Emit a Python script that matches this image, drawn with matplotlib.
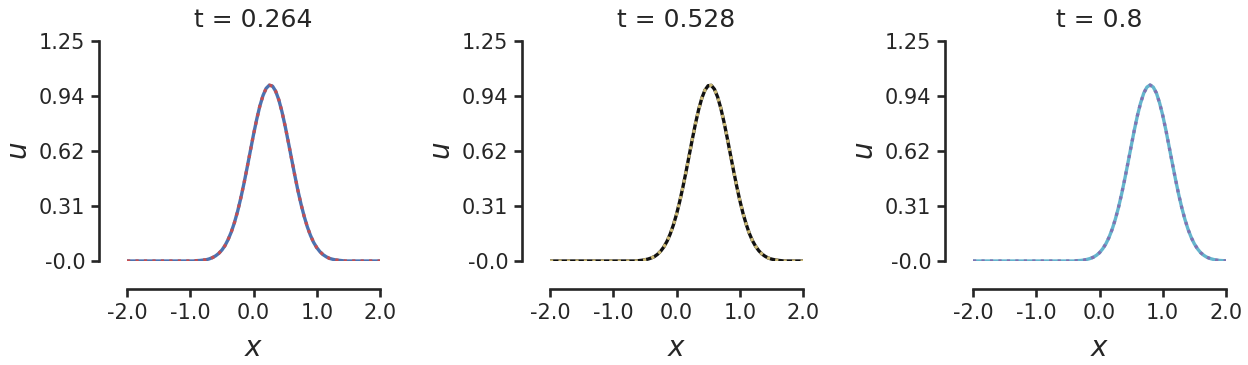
import matplotlib
matplotlib.use("Agg")
import matplotlib.pyplot as plt
import numpy as np

# snapshot times
times = [0.264, 0.528, 0.8]

# x grid (-2 to 2, step 0.05)
x = np.linspace(-2.0, 2.0, 81)

# u(x), one list per snapshot
u_t1 = [0.0] * 22 + [
    0.002, 0.003, 0.005, 0.007, 0.012, 0.019, 0.029, 0.043, 0.062, 0.088,
    0.123, 0.166, 0.220, 0.284, 0.359, 0.442, 0.532, 0.625, 0.718, 0.804,
    0.880, 0.940, 0.981, 0.999, 0.994, 0.965, 0.916, 0.848, 0.767, 0.677,
    0.584, 0.492, 0.404, 0.325, 0.255, 0.195, 0.146, 0.106, 0.076, 0.053,
    0.036, 0.024, 0.015, 0.010, 0.006, 0.004, 0.002] + [0.0] * 12
u_t2 = [0.0] * 28 + [
    0.002, 0.004, 0.007, 0.011, 0.017, 0.025, 0.038, 0.056, 0.080, 0.112,
    0.153, 0.204, 0.265, 0.337, 0.418, 0.506, 0.599, 0.692, 0.781, 0.860,
    0.925, 0.971, 0.996, 0.998, 0.976, 0.932, 0.869, 0.791, 0.703, 0.610,
    0.517, 0.428, 0.346, 0.273, 0.211, 0.158, 0.116, 0.084, 0.059, 0.040,
    0.027, 0.017, 0.011, 0.007, 0.004, 0.002] + [0.0] * 7
u_t3 = [0.0] * 33 + [
    0.002, 0.003, 0.005, 0.009, 0.014, 0.021, 0.032, 0.047, 0.069, 0.097,
    0.134, 0.180, 0.237, 0.304, 0.381, 0.467, 0.558, 0.651, 0.743, 0.827,
    0.898, 0.954, 0.988, 1.000, 0.988, 0.954, 0.898, 0.827, 0.743, 0.651,
    0.558, 0.467, 0.381, 0.304, 0.237, 0.180, 0.134, 0.097, 0.069, 0.047,
    0.032, 0.021, 0.014, 0.009, 0.005, 0.003, 0.002, 0.001]

u_exact = [u_t1, u_t2, u_t3]
u_pred = [u_t1, u_t2, u_t3]

xticks = [-2.0, -1.0, 0.0, 1.0, 2.0]
xticklabels = ["-2.0", "-1.0", "0.0", "1.0", "2.0"]
yticks = [0.0, 0.3125, 0.625, 0.9375, 1.25]
yticklabels = ["-0.0", "0.31", "0.62", "0.94", "1.25"]

# (solid colour, dotted colour) per panel
colors = [("#4C72B0", "#C44E52"), ("#111111", "#CCB974"), ("#64B5CD", "#8172B2")]

ink = "#262626"
plt.rcParams['axes.unicode_minus'] = False
plt.rcParams['font.family'] = 'DejaVu Sans'
plt.rcParams['mathtext.fontset'] = 'dejavusans'

fig = plt.figure(figsize=(12.48, 3.65), dpi=100)
lefts = [127 / 1248, 550 / 1248, 973 / 1248]

for i in range(3):
    ax = fig.add_axes([lefts[i], 104 / 365, 253 / 1248, 220 / 365])
    ax.plot(x, u_exact[i], color=colors[i][0], lw=2.4, ls='-')
    ax.plot(x, u_pred[i], color=colors[i][1], lw=2.3, ls=':')

    ax.set_xlim(-2, 2)
    ax.set_ylim(0, 1.25)
    ax.set_xticks(xticks)
    ax.set_xticklabels(xticklabels)
    ax.set_yticks(yticks)
    ax.set_yticklabels(yticklabels)

    for side in ['top', 'right']:
        ax.spines[side].set_visible(False)
    for side in ['left', 'bottom']:
        ax.spines[side].set_position(('outward', 20))
        ax.spines[side].set_linewidth(1.9)
        ax.spines[side].set_color(ink)
    ax.spines['left'].set_bounds(0, 1.25)
    ax.spines['bottom'].set_bounds(-2, 2)

    ax.tick_params(axis='both', length=6, width=1.9, color=ink,
                   labelcolor=ink, labelsize=15, pad=4)
    ax.set_xlabel('$x$', fontsize=20, color=ink, labelpad=8)
    ax.set_ylabel('$u$', fontsize=20, color=ink, labelpad=4)
    ax.set_title(f"t = {times[i]}", fontsize=18, color=ink, pad=10)

plt.savefig("out.png", dpi=100)
